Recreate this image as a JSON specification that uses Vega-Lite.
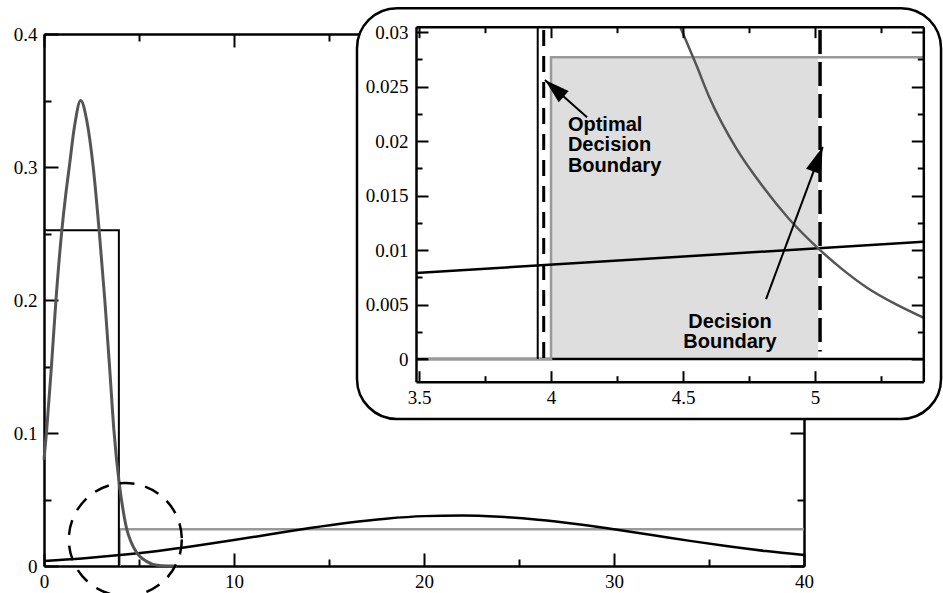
{
  "$schema": "https://vega.github.io/schema/vega-lite/v6.json",
  "width": 760,
  "height": 532,
  "autosize": {"type": "none"},
  "padding": {"left": 44, "top": 34, "right": 139, "bottom": 27},
  "background": "white",
  "config": {
    "view": {"stroke": null},
    "axis": {
      "grid": false, "domainColor": "black", "domainWidth": 2.5, "tickColor": "black", "tickWidth": 2,
      "labelFont": "Liberation Serif", "labelFontSize": 19, "labelColor": "black",
      "labelFlush": false, "labelOverlap": false
    }
  },
  "datasets": {
    "mdark": [
      {"x": 0, "y": 0.08}, {"x": 0.14, "y": 0.102}, {"x": 0.4, "y": 0.152}, {"x": 0.63, "y": 0.2},
      {"x": 0.93, "y": 0.251}, {"x": 1.15, "y": 0.28}, {"x": 1.33, "y": 0.3}, {"x": 1.6, "y": 0.33},
      {"x": 1.93, "y": 0.35}, {"x": 2.25, "y": 0.335}, {"x": 2.59, "y": 0.3}, {"x": 2.91, "y": 0.251},
      {"x": 3.2, "y": 0.2}, {"x": 3.45, "y": 0.15}, {"x": 3.68, "y": 0.102}, {"x": 3.96, "y": 0.062},
      {"x": 4.15, "y": 0.043}, {"x": 4.35, "y": 0.028}, {"x": 4.6, "y": 0.0175}, {"x": 4.87, "y": 0.0103},
      {"x": 5.1, "y": 0.0065}, {"x": 5.4, "y": 0.0035}, {"x": 5.73, "y": 0.0012}, {"x": 6.2, "y": 0.0002},
      {"x": 7.0, "y": 0}
    ],
    "mblack": [
      {"x": 0, "y": 0.0038}, {"x": 2, "y": 0.0057}, {"x": 4, "y": 0.0082}, {"x": 6, "y": 0.0113},
      {"x": 8, "y": 0.0152}, {"x": 10, "y": 0.0195}, {"x": 12, "y": 0.024}, {"x": 14, "y": 0.0285},
      {"x": 16, "y": 0.0325}, {"x": 18, "y": 0.0356}, {"x": 20, "y": 0.0375}, {"x": 22, "y": 0.038},
      {"x": 24, "y": 0.037}, {"x": 26, "y": 0.0348}, {"x": 28, "y": 0.0316}, {"x": 30, "y": 0.0276},
      {"x": 32, "y": 0.0233}, {"x": 34, "y": 0.0189}, {"x": 36, "y": 0.0148}, {"x": 38, "y": 0.0112},
      {"x": 40, "y": 0.0082}
    ],
    "unifBlack": [{"i": 0, "x": 0, "y": 0.2525}, {"i": 1, "x": 3.94, "y": 0.2525}, {"i": 2, "x": 3.94, "y": 0}],
    "unifGray": [{"i": 0, "x": 3.98, "y": 0}, {"i": 1, "x": 3.98, "y": 0.0277}, {"i": 2, "x": 40, "y": 0.0277}],
    "circle": [{"x": 4.28, "y": 0.0199}],
    "box": [{"x": 3.2651, "x2": 5.4772, "y": 0.0322, "y2": -0.0055}],
    "fill": [{"x": 4.0, "x2": 5.012, "y": 0, "y2": 0.0277}],
    "zero": [{"x": 3.4886, "x2": 5.41, "y": 0}],
    "igray": [{"i": 0, "x": 3.534, "y": 0}, {"i": 1, "x": 4.0, "y": 0}, {"i": 2, "x": 4.0, "y": 0.0277}, {"i": 3, "x": 5.41, "y": 0.0277}],
    "ivert": [{"x": 3.9496, "y": 0, "y2": 0.0305}],
    "idashL": [{"x": 3.9723, "y": 0.0302, "y2": 0}],
    "idashR": [{"x": 5.0189, "y": 0.0302, "y2": 0.0007}],
    "iblack": [{"x": 3.4886, "y": 0.0079}, {"x": 5.41, "y": 0.01076}],
    "idark": [
      {"x": 4.489, "y": 0.0305}, {"x": 4.55, "y": 0.027}, {"x": 4.6, "y": 0.024}, {"x": 4.7, "y": 0.0194},
      {"x": 4.8, "y": 0.0159}, {"x": 4.9, "y": 0.0129}, {"x": 5.019, "y": 0.01}, {"x": 5.1, "y": 0.0083},
      {"x": 5.2, "y": 0.0065}, {"x": 5.3, "y": 0.0051}, {"x": 5.41, "y": 0.0038}
    ],
    "arrow1": [{"x": 4.1364, "y": 0.0222, "x2": 3.977, "y2": 0.0256}],
    "arrow2": [{"x": 4.8144, "y": 0.0055, "x2": 5.029, "y2": 0.01948}],
    "label1": [{"x": 4.064, "y": 0.02094, "t": "Optimal\nDecision\nBoundary"}],
    "label2": [{"x": 4.678, "y": 0.00287, "t": "Decision\nBoundary"}]
  },
  "layer": [
    {
      "encoding": {
        "x": {"field": "x", "type": "quantitative",
          "scale": {"domain": [0, 40], "nice": false, "zero": false},
          "axis": {"orient": "bottom", "title": null, "zindex": 0,
            "values": [0, 5, 10, 15, 20, 25, 30, 35, 40],
            "labelExpr": "datum.value % 10 === 0 ? format(datum.value, '~g') : ''",
            "tickSize": {"condition": {"test": "datum.value % 10 === 0", "value": -13}, "value": -7},
            "labelPadding": 19}},
        "y": {"field": "y", "type": "quantitative",
          "scale": {"domain": [0, 0.4], "nice": false, "zero": false},
          "axis": {"orient": "left", "title": null, "zindex": 0,
            "values": [0, 0.05, 0.1, 0.15, 0.2, 0.25, 0.3, 0.35, 0.4],
            "labelExpr": "round(datum.value * 20) % 2 === 0 ? format(datum.value, '~g') : ''",
            "tickSize": {"condition": {"test": "round(datum.value * 20) % 2 === 0", "value": -14}, "value": -7},
            "labelPadding": 21}}
      },
      "layer": [
        {"data": {"name": "unifGray"}, "mark": {"type": "line", "color": "#999999", "strokeWidth": 2.5}, "encoding": {"order": {"field": "i"}}},
        {"data": {"name": "unifBlack"}, "mark": {"type": "line", "color": "black", "strokeWidth": 2}, "encoding": {"order": {"field": "i"}}},
        {"data": {"name": "mblack"}, "mark": {"type": "line", "color": "black", "strokeWidth": 2.5, "interpolate": "monotone"}, "encoding": {}},
        {"data": {"name": "mdark"}, "mark": {"type": "line", "color": "#555555", "strokeWidth": 3, "interpolate": "monotone"}, "encoding": {}}
      ]
    },
    {
      "data": {"name": "circle"},
      "mark": {"type": "point", "shape": "circle", "size": 12769, "filled": false, "stroke": "black", "strokeWidth": 2.5, "strokeDash": [15, 11], "opacity": 1},
      "encoding": {
        "x": {"field": "x", "type": "quantitative",
          "scale": {"domain": [0, 40], "nice": false, "zero": false},
          "axis": {"orient": "top", "title": null, "zindex": 0, "labels": false,
            "values": [0, 5, 10, 15, 20, 25, 30, 35, 40],
            "tickSize": {"condition": {"test": "datum.value % 10 === 0", "value": -13}, "value": -7}}},
        "y": {"field": "y", "type": "quantitative",
          "scale": {"domain": [0, 0.4], "nice": false, "zero": false},
          "axis": {"orient": "right", "title": null, "zindex": 0, "labels": false,
            "values": [0, 0.05, 0.1, 0.15, 0.2, 0.25, 0.3, 0.35, 0.4],
            "tickSize": {"condition": {"test": "round(datum.value * 20) % 2 === 0", "value": -14}, "value": -7}}}
      }
    },
    {
      "encoding": {
        "x": {"field": "x", "type": "quantitative",
          "scale": {"domain": [3.4886, 5.41], "range": [372, 879.3], "nice": false, "zero": false},
          "axis": {"orient": "bottom", "title": null, "zindex": 1, "offset": -184.3,
            "values": [3.5, 3.75, 4, 4.25, 4.5, 4.75, 5, 5.25],
            "labelExpr": "round(datum.value * 4) % 2 === 0 ? format(datum.value, '~g') : ''",
            "tickSize": {"condition": {"test": "round(datum.value * 4) % 2 === 0", "value": -11}, "value": -6},
            "labelPadding": 18}},
        "y": {"field": "y", "type": "quantitative",
          "scale": {"domain": [-0.00208, 0.0305], "range": [347.7, -7.3], "nice": false, "zero": false},
          "axis": {"orient": "left", "title": null, "zindex": 1, "offset": -372,
            "values": [0, 0.0025, 0.005, 0.0075, 0.01, 0.0125, 0.015, 0.0175, 0.02, 0.0225, 0.025, 0.0275, 0.03],
            "labelExpr": "round(datum.value * 400) % 2 === 0 ? format(datum.value, '~g') : ''",
            "tickSize": {"condition": {"test": "round(datum.value * 400) % 2 === 0", "value": -12}, "value": -6},
            "labelPadding": 20}}
      },
      "layer": [
        {"data": {"name": "box"}, "mark": {"type": "rect", "fill": "white", "stroke": "black", "strokeWidth": 2.5, "cornerRadius": 40},
          "encoding": {"x2": {"field": "x2"}, "y2": {"field": "y2"}}},
        {"data": {"name": "fill"}, "mark": {"type": "rect", "fill": "#dedede"},
          "encoding": {"x2": {"field": "x2"}, "y2": {"field": "y2"}}},
        {"data": {"name": "zero"}, "mark": {"type": "rule", "color": "black", "strokeWidth": 2.5},
          "encoding": {"x2": {"field": "x2"}}},
        {"data": {"name": "igray"}, "mark": {"type": "line", "color": "#999999", "strokeWidth": 2.5}, "encoding": {"order": {"field": "i"}}},
        {"data": {"name": "ivert"}, "mark": {"type": "rule", "color": "black", "strokeWidth": 2},
          "encoding": {"y2": {"field": "y2"}}},
        {"data": {"name": "idashL"}, "mark": {"type": "rule", "color": "black", "strokeWidth": 3, "strokeDash": [16, 10]},
          "encoding": {"y2": {"field": "y2"}}},
        {"data": {"name": "idashR"}, "mark": {"type": "rule", "color": "black", "strokeWidth": 3.5, "strokeDash": [24, 8]},
          "encoding": {"y2": {"field": "y2"}}},
        {"data": {"name": "iblack"}, "mark": {"type": "line", "color": "black", "strokeWidth": 2.5}, "encoding": {}},
        {"data": {"name": "idark"}, "mark": {"type": "line", "color": "#555555", "strokeWidth": 2.5, "interpolate": "monotone"}, "encoding": {}}
      ]
    },
    {
      "encoding": {
        "x": {"field": "x", "type": "quantitative",
          "scale": {"domain": [3.4886, 5.41], "range": [372, 879.3], "nice": false, "zero": false},
          "axis": {"orient": "top", "title": null, "zindex": 1, "offset": 7.3, "labels": false,
            "values": [3.5, 3.75, 4, 4.25, 4.5, 4.75, 5, 5.25],
            "tickSize": {"condition": {"test": "round(datum.value * 4) % 2 === 0", "value": -11}, "value": -6}}},
        "y": {"field": "y", "type": "quantitative",
          "scale": {"domain": [-0.00208, 0.0305], "range": [347.7, -7.3], "nice": false, "zero": false},
          "axis": {"orient": "right", "title": null, "zindex": 1, "offset": 119.3, "labels": false,
            "values": [0, 0.0025, 0.005, 0.0075, 0.01, 0.0125, 0.015, 0.0175, 0.02, 0.0225, 0.025, 0.0275, 0.03],
            "tickSize": {"condition": {"test": "round(datum.value * 400) % 2 === 0", "value": -12}, "value": -6}}}
      },
      "layer": [
        {"data": {"name": "arrow1"}, "mark": {"type": "rule", "color": "black", "strokeWidth": 2},
          "encoding": {"x2": {"field": "x2"}, "y2": {"field": "y2"}}},
        {"data": {"name": "arrow2"}, "mark": {"type": "rule", "color": "black", "strokeWidth": 2},
          "encoding": {"x2": {"field": "x2"}, "y2": {"field": "y2"}}},
        {"data": {"name": "arrow1"}, "mark": {"type": "point", "shape": "M0,0L-0.3,1L0.3,1Z", "filled": true, "color": "black", "opacity": 1, "size": 2500, "angle": 311.4},
          "encoding": {"x": {"field": "x2", "type": "quantitative"}, "y": {"field": "y2", "type": "quantitative"}}},
        {"data": {"name": "arrow2"}, "mark": {"type": "point", "shape": "M0,0L-0.3,1L0.3,1Z", "filled": true, "color": "black", "opacity": 1, "size": 2800, "angle": 20.4},
          "encoding": {"x": {"field": "x2", "type": "quantitative"}, "y": {"field": "y2", "type": "quantitative"}}},
        {"data": {"name": "label1"}, "mark": {"type": "text", "align": "left", "baseline": "alphabetic", "font": "Liberation Sans", "fontWeight": "bold", "fontSize": 20, "lineHeight": 20.5, "lineBreak": "\n", "color": "black"},
          "encoding": {"text": {"field": "t"}}},
        {"data": {"name": "label2"}, "mark": {"type": "text", "align": "center", "baseline": "alphabetic", "font": "Liberation Sans", "fontWeight": "bold", "fontSize": 20, "lineHeight": 20, "lineBreak": "\n", "color": "black"},
          "encoding": {"text": {"field": "t"}}}
      ]
    }
  ],
  "resolve": {"scale": {"x": "independent", "y": "independent"}}
}
